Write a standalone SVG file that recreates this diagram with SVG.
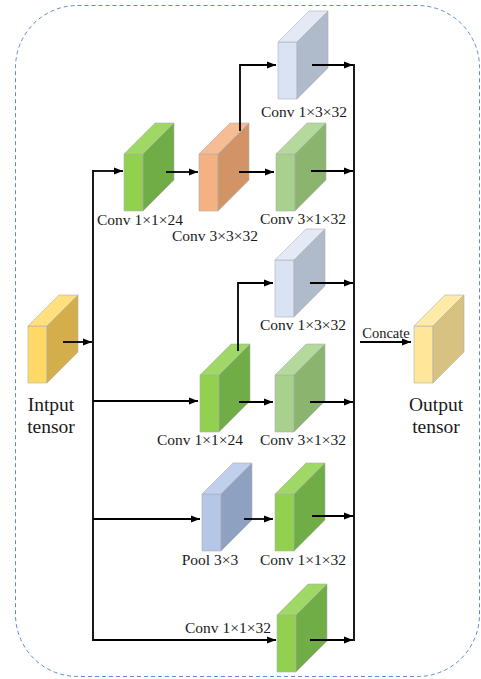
<svg xmlns="http://www.w3.org/2000/svg" width="481" height="679" viewBox="0 0 481 679">
<style>
.lbl{font-family:"Liberation Serif","Times New Roman",serif;font-size:15.5px;fill:#1a1a1a;text-anchor:middle}
.big{font-family:"Liberation Serif","Times New Roman",serif;font-size:19.5px;fill:#1a1a1a;text-anchor:middle}
.blk rect,.blk polygon{stroke:#b0b0b0;stroke-width:0.6;stroke-linejoin:round}
.green .f{fill:#92d050}.green .t{fill:#a0d865}.green .s{fill:#70ad47}
.lgreen .f{fill:#a9d18e}.lgreen .t{fill:#b5d99d}.lgreen .s{fill:#8bb56f}
.lblue .f{fill:#dae3f3}.lblue .t{fill:#e3eaf6}.lblue .s{fill:#afbacb}
.orange .f{fill:#f4b183}.orange .t{fill:#f6bc94}.orange .s{fill:#d29466}
.pool .f{fill:#b4c7e7}.pool .t{fill:#bfcfec}.pool .s{fill:#8fa1c0}
.yin .f{fill:#ffd966}.yin .t{fill:#ffe07d}.yin .s{fill:#d5ae4c}
.yout .f{fill:#ffe699}.yout .t{fill:#ffeaa8}.yout .s{fill:#d7c282}
.ln{fill:none;stroke:#000;stroke-width:1.8}
.arr{marker-end:url(#ah)}
</style>
<defs>
<marker id="ah" markerUnits="userSpaceOnUse" markerWidth="10" markerHeight="8" refX="9" refY="4" orient="auto">
<path d="M0,0.5 L9,4 L0,7.5 z" fill="#000"/>
</marker>
</defs>

<rect x="15.5" y="5.5" width="464" height="671" rx="62" ry="62" fill="none" stroke="#5b8bd0" stroke-width="1" stroke-dasharray="4,3"/>

<g id="input">
<g class="blk yin" transform="translate(28,326)"><rect class="f" width="19" height="57"/><polygon class="t" points="0,0 31,-31 50,-31 19,0"/><polygon class="s" points="19,0 50,-31 50,26 19,57"/></g>
<text class="big" x="51" y="411">Intput</text>
<text class="big" x="51" y="433">tensor</text>
</g>
<g id="conv1x1x24_a">
<g class="blk green" transform="translate(124,154)"><rect class="f" width="19" height="57"/><polygon class="t" points="0,0 31,-31 50,-31 19,0"/><polygon class="s" points="19,0 50,-31 50,26 19,57"/></g>
<text class="lbl" x="140" y="225">Conv 1×1×24</text>
</g>
<g id="conv3x3x32">
<g class="blk orange" transform="translate(199,154)"><rect class="f" width="19" height="57"/><polygon class="t" points="0,0 31,-31 50,-31 19,0"/><polygon class="s" points="19,0 50,-31 50,26 19,57"/></g>
<text class="lbl" x="215" y="241">Conv 3×3×32</text>
</g>
<g id="conv1x3x32_a">
<g class="blk lblue" transform="translate(278,42)"><rect class="f" width="19" height="57"/><polygon class="t" points="0,0 31,-31 50,-31 19,0"/><polygon class="s" points="19,0 50,-31 50,26 19,57"/></g>
<text class="lbl" x="304" y="117">Conv 1×3×32</text>
</g>
<g id="conv3x1x32_a">
<g class="blk lgreen" transform="translate(276,154)"><rect class="f" width="19" height="57"/><polygon class="t" points="0,0 31,-31 50,-31 19,0"/><polygon class="s" points="19,0 50,-31 50,26 19,57"/></g>
<text class="lbl" x="303" y="224">Conv 3×1×32</text>
</g>
<g id="conv1x3x32_b">
<g class="blk lblue" transform="translate(275,260)"><rect class="f" width="19" height="57"/><polygon class="t" points="0,0 31,-31 50,-31 19,0"/><polygon class="s" points="19,0 50,-31 50,26 19,57"/></g>
<text class="lbl" x="303" y="330">Conv 1×3×32</text>
</g>
<g id="conv1x1x24_b">
<g class="blk green" transform="translate(200,375)"><rect class="f" width="19" height="57"/><polygon class="t" points="0,0 31,-31 50,-31 19,0"/><polygon class="s" points="19,0 50,-31 50,26 19,57"/></g>
<text class="lbl" x="200" y="445">Conv 1×1×24</text>
</g>
<g id="conv3x1x32_b">
<g class="blk lgreen" transform="translate(275,375)"><rect class="f" width="19" height="57"/><polygon class="t" points="0,0 31,-31 50,-31 19,0"/><polygon class="s" points="19,0 50,-31 50,26 19,57"/></g>
<text class="lbl" x="303" y="445">Conv 3×1×32</text>
</g>
<g id="pool3x3">
<g class="blk pool" transform="translate(202,494)"><rect class="f" width="19" height="57"/><polygon class="t" points="0,0 31,-31 50,-31 19,0"/><polygon class="s" points="19,0 50,-31 50,26 19,57"/></g>
<text class="lbl" x="210" y="565">Pool 3×3</text>
</g>
<g id="conv1x1x32_a">
<g class="blk green" transform="translate(275,494)"><rect class="f" width="19" height="57"/><polygon class="t" points="0,0 31,-31 50,-31 19,0"/><polygon class="s" points="19,0 50,-31 50,26 19,57"/></g>
<text class="lbl" x="303" y="565">Conv 1×1×32</text>
</g>
<g id="conv1x1x32_b">
<g class="blk green" transform="translate(277,615)"><rect class="f" width="19" height="57"/><polygon class="t" points="0,0 31,-31 50,-31 19,0"/><polygon class="s" points="19,0 50,-31 50,26 19,57"/></g>
<text class="lbl" x="228" y="633">Conv 1×1×32</text>
</g>
<g id="output">
<g class="blk yout" transform="translate(414,326)"><rect class="f" width="19" height="57"/><polygon class="t" points="0,0 31,-31 50,-31 19,0"/><polygon class="s" points="19,0 50,-31 50,26 19,57"/></g>
<text class="big" x="436" y="411">Output</text>
<text class="big" x="436" y="433">tensor</text>
</g>

<g id="connectors">
<path class="ln arr" d="M63,342 H92"/>
<path class="ln" d="M93,170 V641"/>
<path class="ln arr" d="M93,171 H123"/>
<path class="ln arr" d="M93,401 H198"/>
<path class="ln arr" d="M93,519 H200"/>
<path class="ln arr" d="M93,640 H276"/>
<path class="ln arr" d="M166,172 H198"/>
<path class="ln arr" d="M239,172 H274"/>
<path class="ln arr" d="M240,131 V65 H276"/>
<path class="ln arr" d="M239,402 H273"/>
<path class="ln arr" d="M238,351 V283 H273"/>
<path class="ln arr" d="M244,519 H273"/>
<path class="ln" d="M354,64 V641"/>
<path class="ln arr" d="M312,65 H353"/>
<path class="ln arr" d="M311,171 H353"/>
<path class="ln arr" d="M310,283 H353"/>
<path class="ln arr" d="M310,402 H353"/>
<path class="ln arr" d="M312,516 H353"/>
<path class="ln arr" d="M310,640 H353"/>
<path class="ln arr" d="M360,342 H411"/>
<text class="lbl" x="386" y="338" style="font-size:14.5px">Concate</text>
</g>
</svg>
